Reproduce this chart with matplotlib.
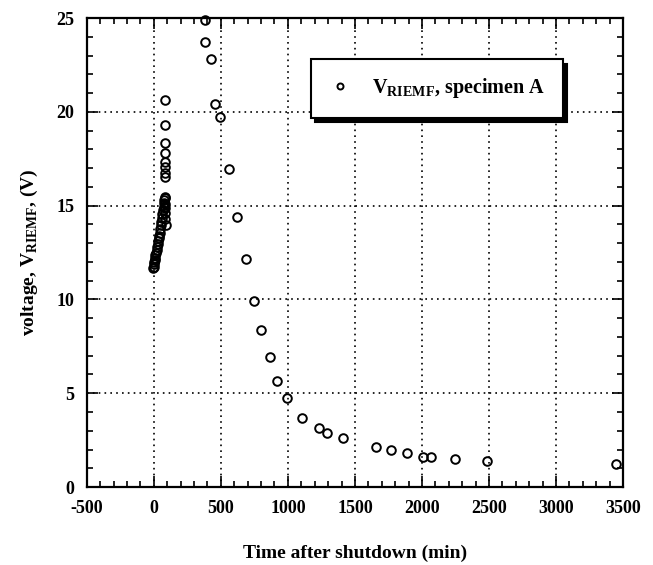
import numpy as np
import matplotlib
matplotlib.use("Agg")
import matplotlib.pyplot as plt
from matplotlib.ticker import MultipleLocator

plt.rcParams['font.family'] = 'Liberation Serif'
plt.rcParams['font.weight'] = 'bold'
plt.rcParams['mathtext.fontset'] = 'custom'
plt.rcParams['mathtext.rm'] = 'Liberation Serif:bold'
plt.rcParams['mathtext.bf'] = 'Liberation Serif:bold'
plt.rcParams['axes.unicode_minus'] = False

# early part, right after shutdown (dense trail + open circles)
t_early = [-5, -2, 0, 2, 5, 8, 12, 16, 20, 24, 28, 32, 36, 40, 44, 48, 52,
           56, 60, 64, 68, 72, 75, 78, 80,
           88, 84, 86, 84, 82, 80, 83, 82, 83, 82, 83, 82, 82, 83]
v_early = [11.7, 11.9, 11.75, 12.0, 12.1, 12.2, 12.35, 12.5, 12.65, 12.8, 12.95,
           13.1, 13.25, 13.4, 13.55, 13.75, 13.95, 14.15, 14.35, 14.55, 14.75,
           14.95, 15.15, 15.3, 15.4,
           13.95, 14.3, 14.6, 14.9, 15.1, 15.45, 16.55, 16.75, 17.05, 17.35,
           17.8, 18.35, 19.3, 20.65]

# later part
t_late = [378, 385, 427, 453, 492, 560, 622, 684, 746, 803, 865, 918, 994,
          1106, 1231, 1293, 1413, 1654, 1773, 1890, 2007, 2071, 2250, 2486, 3448]
v_late = [24.9, 23.7, 22.8, 20.4, 19.7, 16.95, 14.4, 12.15, 9.9, 8.37, 6.95,
          5.67, 4.76, 3.66, 3.13, 2.86, 2.6, 2.15, 2.0, 1.8, 1.58, 1.58, 1.49,
          1.39, 1.21]

t = t_early + t_late
v = v_early + v_late

fig = plt.figure(figsize=(6.53, 5.65), dpi=100)
ax = fig.add_axes([0.133, 0.138, 0.821, 0.830])

ax.plot(t, v, linestyle='none', marker='o', markersize=6.2,
        markerfacecolor='none', markeredgecolor='black', markeredgewidth=1.4,
        label=r'V$_{\mathrm{RIEMF}}$, specimen A', clip_on=False)

ax.set_xlim(-500, 3500)
ax.set_ylim(0, 25)
ax.xaxis.set_major_locator(MultipleLocator(500))
ax.xaxis.set_minor_locator(MultipleLocator(100))
ax.yaxis.set_major_locator(MultipleLocator(5))
ax.yaxis.set_minor_locator(MultipleLocator(1))
ax.tick_params(which='both', direction='in', top=True, right=True,
               width=1.2, labelsize=13)
ax.tick_params(which='major', length=8, pad=9)
ax.tick_params(which='minor', length=4)
for lab in ax.get_xticklabels() + ax.get_yticklabels():
    lab.set_fontweight('bold')
for sp in ax.spines.values():
    sp.set_linewidth(1.6)

ax.grid(True, which='major', linestyle=(0, (1, 2.5)), color='black', linewidth=1.2)

ax.set_xlabel('Time after shutdown (min)', fontsize=14, fontweight='bold', labelpad=20)
ax.set_ylabel(r'voltage, V$_{\mathrm{RIEMF}}$, (V)', fontsize=14, fontweight='bold', labelpad=12)

leg = ax.legend(loc='upper left', bbox_to_anchor=(0.418, 0.912), fontsize=14.5,
                frameon=True, fancybox=False, borderpad=0.85, borderaxespad=0,
                handlelength=1.2, handletextpad=1.0, markerscale=0.7,
                shadow={'color': 'black', 'alpha': 1, 'ox': 3, 'oy': -3})
leg.get_frame().set_edgecolor('black')
leg.get_frame().set_linewidth(1.5)
leg.get_frame().set_alpha(1)

fig.savefig('out.png', dpi=100)
